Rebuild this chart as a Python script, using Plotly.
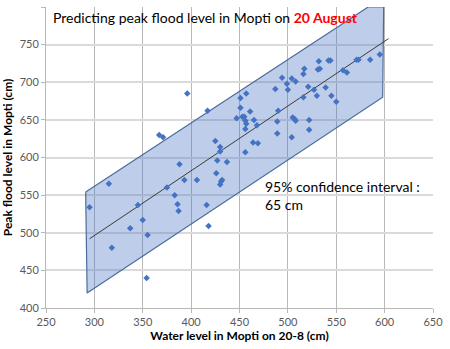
import plotly.graph_objects as go

# Observed data: water level on 20-8 (cm) vs peak flood level (cm)
water_level = [295, 315, 318, 337, 345, 350, 355, 354, 367, 371, 375, 383, 386, 387, 388,
               393, 396, 406, 416, 417, 418, 425, 426, 427, 430, 430, 430, 431, 432, 437,
               447, 451, 451, 453, 455, 456, 457, 456, 456, 457, 461, 464, 465, 468, 469,
               487, 489, 489, 490, 494, 499, 500, 504, 504, 505, 507, 508, 508, 516, 516,
               517, 521, 522, 522, 527, 530, 531, 532, 533, 539, 542, 544, 545, 550, 557,
               561, 571, 573, 585, 595]
peak_level = [534, 565, 480, 506, 537, 517, 497, 440, 630, 627, 560, 550, 538, 529, 591,
              570, 685, 570, 537, 662, 509, 622, 579, 596, 614, 608, 564, 568, 570, 594,
              652, 666, 679, 654, 654, 649, 645, 638, 607, 685, 661, 620, 650, 643, 619,
              691, 632, 648, 662, 706, 698, 690, 627, 705, 653, 651, 649, 701, 680, 711,
              718, 694, 650, 637, 690, 682, 717, 728, 718, 693, 729, 729, 682, 674, 716,
              713, 730, 730, 730, 737]

# Regression line end points
trend_x = [295, 604]
trend_y = [492, 758]

# 95% confidence band outline
band_x = [291, 583, 599, 598, 292.5, 291]
band_y = [554, 800, 800, 680, 420, 554]

x_ticks = [250, 300, 350, 400, 450, 500, 550, 600, 650]
y_ticks = [400, 450, 500, 550, 600, 650, 700, 750, 800]

FONT = "Lato"

fig = go.Figure()
fig.add_trace(go.Scatter(
    x=band_x, y=band_y, mode="lines", fill="toself",
    fillcolor="rgba(68,114,196,0.35)",
    line=dict(color="#4a6c9b", width=1.2),
    hoverinfo="skip", showlegend=False))
fig.add_trace(go.Scatter(
    x=trend_x, y=trend_y, mode="lines",
    line=dict(color="#3a3a3a", width=1),
    showlegend=False))
fig.add_trace(go.Scatter(
    x=water_level, y=peak_level, mode="markers",
    marker=dict(symbol="diamond", size=5, color="#4472C4"),
    showlegend=False))

fig.add_annotation(
    x=255, y=786, xref="x", yref="y", xanchor="left", yanchor="middle",
    text="Predicting peak flood level in Mopti on <b><span style='color:#ff0000'>20 August</span></b>",
    showarrow=False, font=dict(family=FONT, size=14, color="#000000"))
fig.add_annotation(
    x=474, y=549, xref="x", yref="y", xanchor="left", yanchor="middle", align="left",
    text="95% confidence interval :<br>65 cm",
    showarrow=False, font=dict(family=FONT, size=14, color="#000000"))

fig.update_layout(
    width=450, height=349,
    margin=dict(l=46, r=13, t=7, b=41),
    paper_bgcolor="white", plot_bgcolor="white",
    font=dict(family=FONT, size=11, color="#595959"),
    xaxis=dict(range=[250, 650], tickvals=x_ticks, showgrid=True,
               gridcolor="#b8b8b8", gridwidth=1, zeroline=False,
               showline=True, linecolor="#b8b8b8", ticks="outside", ticklen=4,
               tickcolor="#b8b8b8",
               title=dict(text="<b>Water level in Mopti on 20-8 (cm)</b>",
                          font=dict(family=FONT, size=12, color="#000000"), standoff=4)),
    yaxis=dict(range=[400, 800], tickvals=y_ticks, showgrid=True,
               gridcolor="#dadada", gridwidth=1.5, zeroline=False,
               showline=True, linecolor="#b8b8b8", ticks="outside", ticklen=4,
               tickcolor="#b8b8b8",
               title=dict(text="<b>Peak flood level in Mopti (cm)</b>",
                          font=dict(family=FONT, size=12, color="#000000"), standoff=4)),
)

fig.write_html("out.html")
